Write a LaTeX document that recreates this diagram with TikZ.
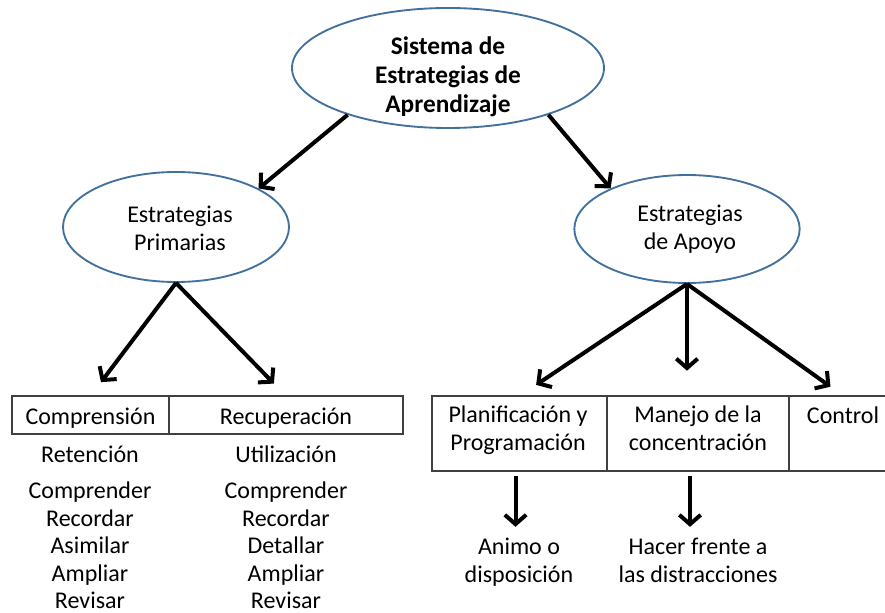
\documentclass[tikz,border=0pt]{standalone}
\usepackage{fontspec}
\setmainfont{Carlito}
\usetikzlibrary{shapes.geometric,arrows.meta,positioning}
\definecolor{ovalblue}{RGB}{65,113,156}

\begin{document}
\begin{tikzpicture}[x=0.75pt,y=-0.75pt,
    oval/.style={ellipse, draw=ovalblue, line width=1.4pt, inner sep=0pt},
    cell/.style={draw=black!75, line width=1pt, inner sep=0pt, outer sep=0pt},
    word/.style={font=\fontsize{18}{20.8}\selectfont, align=center, inner sep=0pt},
    head/.style={font=\fontsize{19}{21.75}\selectfont\bfseries, align=center, inner sep=0pt},
    arrow/.style={line width=3pt, -{Straight Barb[length=7pt,width=16pt]}}]
    \useasboundingbox (0,0) rectangle (885,613);

    % Draw the ovals
    \node[oval, minimum width=234pt, minimum height=90pt] (sys) at (448,68) {};
    \node[head, anchor=base] (systxt) at (448,113) {Sistema de\\Estrategias de\\Aprendizaje};
    \node[oval, minimum width=169.5pt, minimum height=82.5pt] (prim) at (176,227) {};
    \node[word, anchor=base] (primtxt) at (180,250) {Estrategias\\Primarias};
    \node[oval, minimum width=169pt, minimum height=81pt] (apoyo) at (687,229) {};
    \node[word, anchor=base] (apoyotxt) at (690,249) {Estrategias\\de Apoyo};

    % Draw the table cells
    \node[cell, minimum width=117.75pt, minimum height=28.5pt, word, text height=17pt, text depth=3.5pt] (comp) at (90.5,415) {Comprensión};
    \node[cell, minimum width=175.5pt, minimum height=28.5pt, word, text height=17pt, text depth=3.5pt, right=0pt of comp] (recu) {Recuperación};
    \node[cell, minimum width=131.25pt, minimum height=56.25pt] (plan) at (519.5,433.5) {};
    \node[cell, minimum width=136.5pt, minimum height=56.25pt, right=0pt of plan] (mane) {};
    \node[cell, minimum width=81.75pt, minimum height=56.25pt, right=0pt of mane] (ctrl) {};
    \node[word, anchor=base] (plantxt) at (518,450) {Planificación y\\Programación};
    \node[word, anchor=base] (manetxt) at (698,450) {Manejo de la\\concentración};
    \node[word, anchor=base] (ctrltxt) at (843,423) {Control};

    % Draw the word lists
    \node[word, anchor=base] (ret) at (90,462) {Retención};
    \node[word, anchor=base] (uti) at (286,462) {Utilización};
    \foreach \w [count=\i] in {Comprender,Recordar,Asimilar,Ampliar,Revisar} {
        \node[word, anchor=base] (retw\i) at (90,471+27.5*\i) {\w};
    }
    \foreach \w [count=\i] in {Comprender,Recordar,Detallar,Ampliar,Revisar} {
        \node[word, anchor=base] (utiw\i) at (286,471+27.5*\i) {\w};
    }
    \node[word, anchor=base] (animo) at (519,582) {Animo o\\disposición};
    \node[word, anchor=base] (hacer) at (698,582) {Hacer frente a\\las distracciones};

    % Draw the arrows
    \draw[arrow] (sys.205) -- (prim.25);
    \draw[arrow] (sys.335) -- (apoyo.152);
    \draw[arrow, shorten >=13pt] (prim.south) -- (comp.north);
    \draw[arrow, shorten >=13pt] (prim.south) -- (recu.north);
    \draw[arrow, shorten >=15pt] (apoyo.south) -- (plan.north);
    \draw[arrow, shorten >=19pt] (apoyo.south) -- (apoyo.south |- mane.north);
    \draw[arrow, shorten >=12pt] (apoyo.south) -- (ctrl.north);
    \draw[arrow, shorten <=4pt, shorten >=8pt] ([xshift=-3pt]plan.south) -- ([xshift=-3pt]plan.south |- animo.north);
    \draw[arrow, shorten <=4pt, shorten >=8pt] ([xshift=-6pt]mane.south) -- ([xshift=-6pt]mane.south |- hacer.north);

\end{tikzpicture}
\end{document}
